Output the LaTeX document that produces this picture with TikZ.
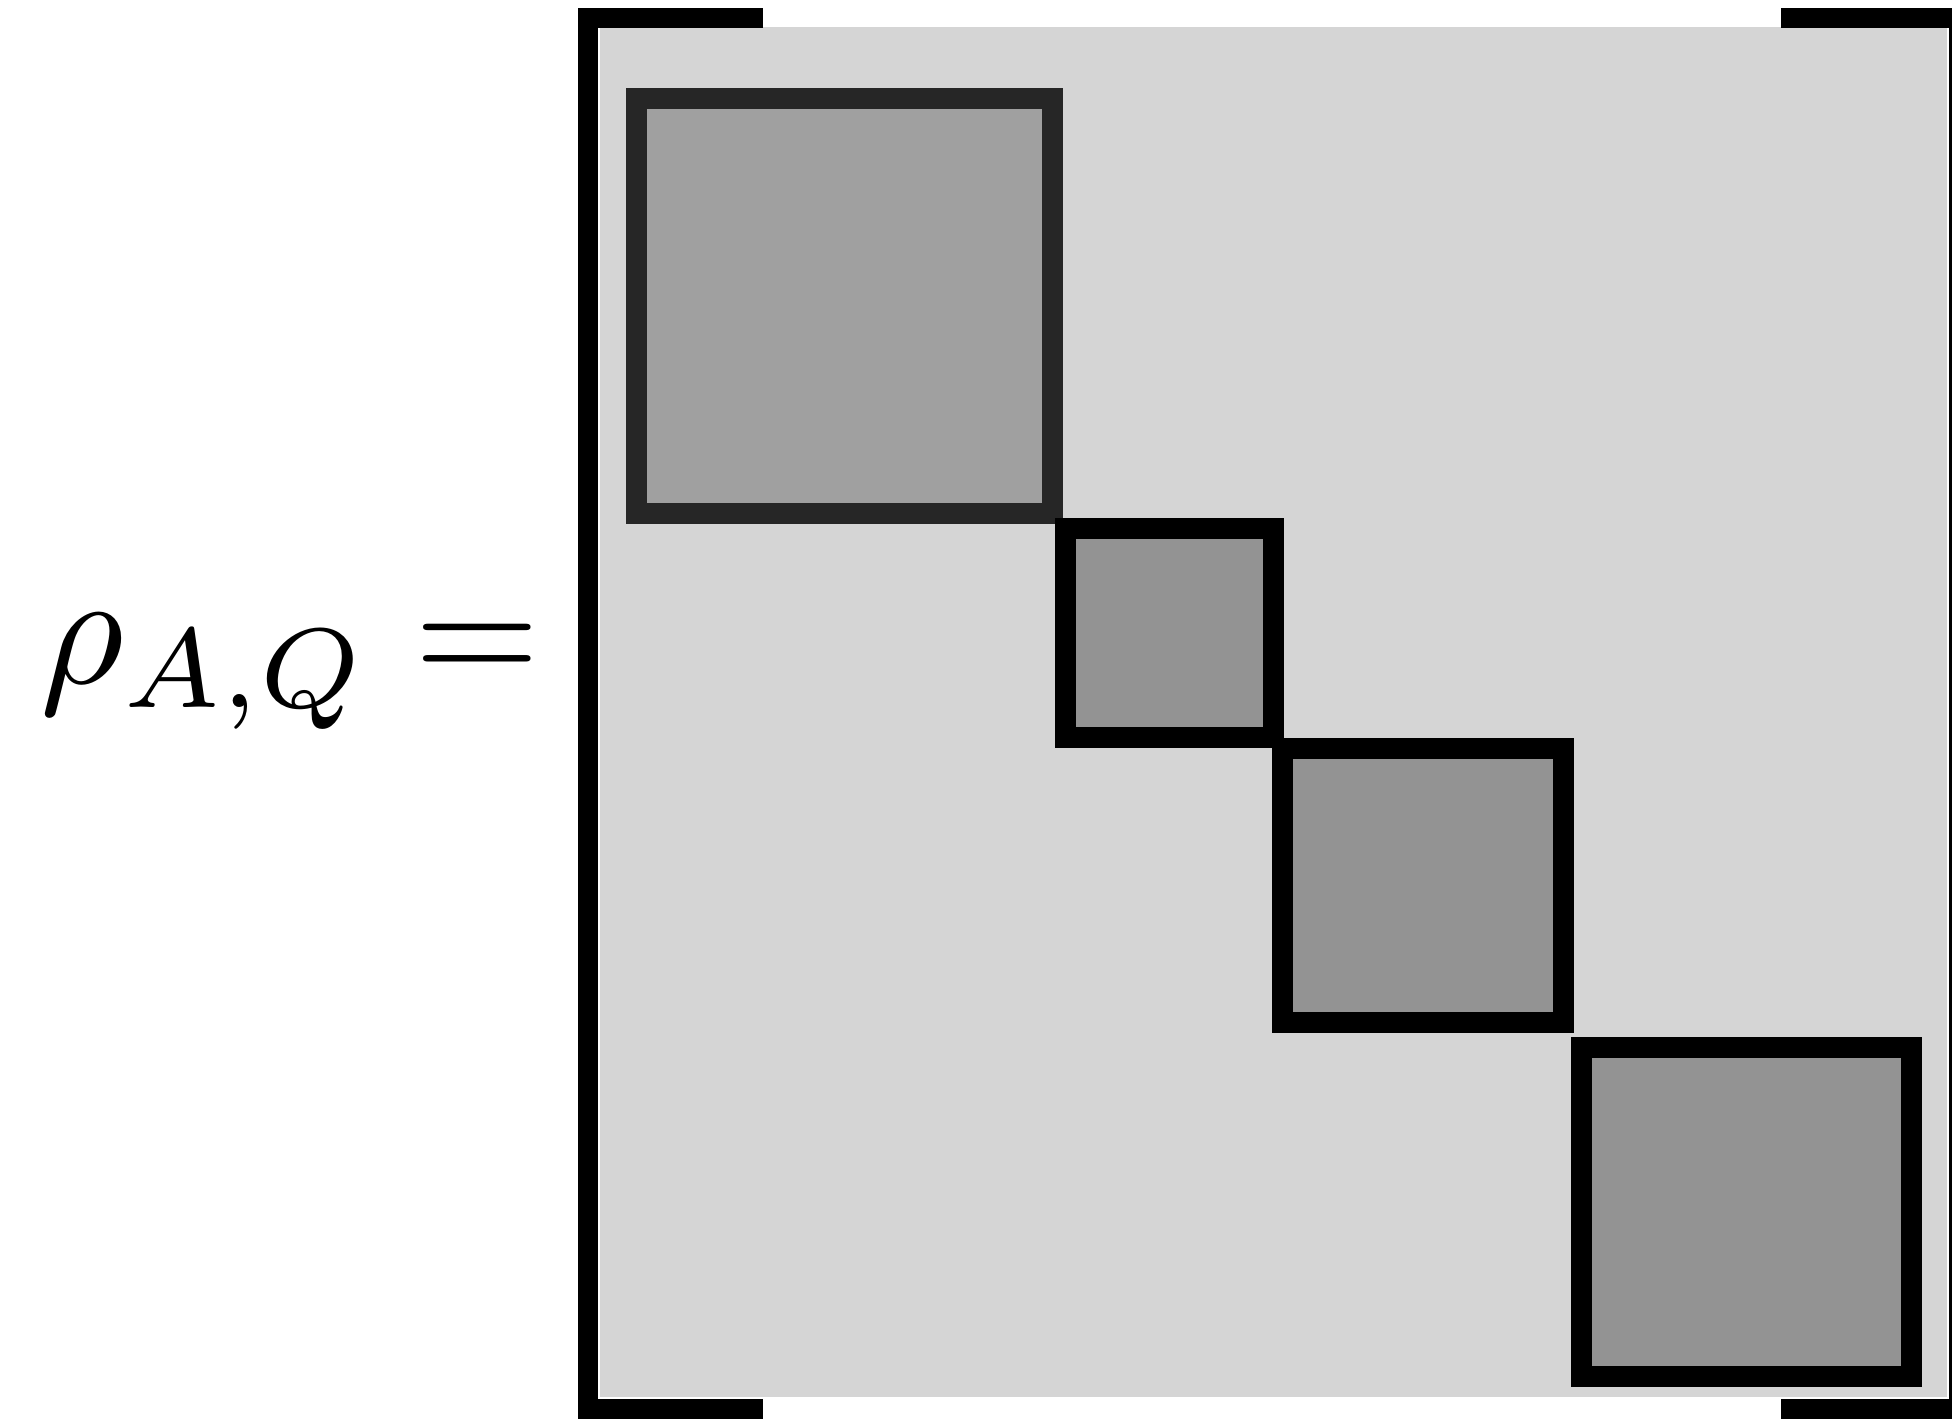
\documentclass[tikz,border=0pt]{standalone}
\usepackage{amsmath}
\usepackage{tikz}
\usetikzlibrary{positioning}
\definecolor{colbg}{RGB}{213,213,213}
\definecolor{colblk}{RGB}{160,160,160}
\definecolor{colsub}{RGB}{147,147,147}
\definecolor{coldark}{RGB}{38,38,38}
\begin{document}
\begin{tikzpicture}[
  x=0.25pt, y=-0.25pt,
  bracket/.style={draw=black, line width=5pt, line join=miter},
  bigblock/.style={draw=coldark, fill=colblk, line width=5.25pt},
  subblock/.style={draw=black, fill=colsub, line width=5.25pt},
  eqn/.style={inner sep=0pt, anchor=base west, scale=4.04, transform shape}
]
\useasboundingbox (0,0) rectangle (1952,1418);

% left-hand side
\node[eqn] (lhs) at (37,683) {$\rho_{A,Q} =$};

% matrix background
\fill[colbg] (600,27) rectangle (1947,1397);

% block-diagonal entries
\draw[bigblock] (636.5,98) rectangle (1052.5,513);
\draw[subblock] (1065.5,528.5) rectangle (1273.5,737);
\draw[subblock] (1282,748) rectangle (1563.5,1022.5);
\draw[subblock] (1581.5,1047.5) rectangle (1911.5,1376);

% brackets
\draw[bracket] (763,18) -- (587.5,18) -- (587.5,1408.5) -- (763,1408.5);
\draw[bracket] (1781,18) -- (1959,18) -- (1959,1408.5) -- (1781,1408.5);
\end{tikzpicture}
\end{document}
